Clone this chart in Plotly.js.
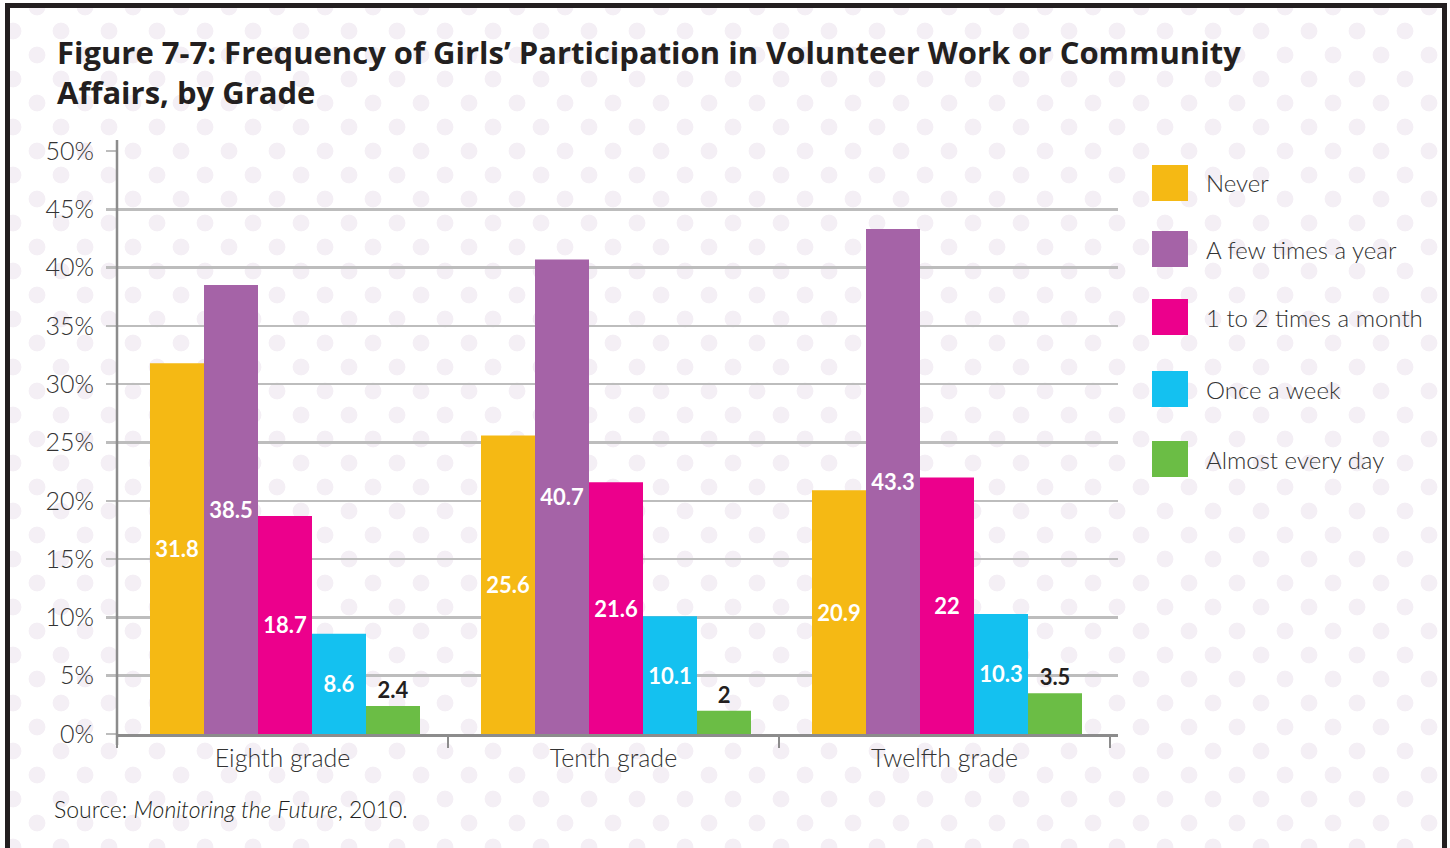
<!DOCTYPE html>
<html>
<head>
<meta charset="utf-8">
<script src="https://cdn.plot.ly/plotly-3.0.1.min.js"></script>
<style>
  html, body { margin: 0; padding: 0; width: 1450px; height: 848px; overflow: hidden; background: #ffffff; }
  #frame {
    position: absolute; left: 5px; top: 3px; width: 1432px; height: 900px;
    border: 5px solid #231f20; border-bottom: none;
    background-color: #ffffff;
    background-image:
      radial-gradient(circle, #f4eff5 8px, rgba(244,239,245,0) 8.7px),
      radial-gradient(circle, #f4eff5 8px, rgba(244,239,245,0) 8.7px);
    background-size: 48px 48px, 48px 48px;
    background-position: -21px -1px, 3px -25px;
  }
  #chart { position: absolute; left: 0; top: 0; width: 1450px; height: 848px; }
</style>
</head>
<body>
<div id="frame"></div>
<div id="chart"></div>
<script>
// ---- data ----
const grades = ["Eighth grade", "Tenth grade", "Twelfth grade"];
const seriesNames = ["Never", "A few times a year", "1 to 2 times a month", "Once a week", "Almost every day"];
const never = [31.8, 25.6, 20.9];
const fewTimesYear = [38.5, 40.7, 43.3];
const oneToTwoMonth = [18.7, 21.6, 22];
const onceWeek = [8.6, 10.1, 10.3];
const almostEveryDay = [2.4, 2, 3.5];
const yTickValues = [0, 5, 10, 15, 20, 25, 30, 35, 40, 45, 50];
const yTickLabels = ["0%", "5%", "10%", "15%", "20%", "25%", "30%", "35%", "40%", "45%", "50%"];

const seriesValues = [never, fewTimesYear, oneToTwoMonth, onceWeek, almostEveryDay];
const colors = ["#f5b914", "#a563a7", "#ec008c", "#14c1f0", "#6bbd45"];

// ---- geometry helpers (pixels -> paper) ----
const L = 117, R = 1118, T = 151, B = 734;
const CAT = 331;            // category width in px
const px2x = p => (p - L) / (R - L);
const py2y = p => (B - p) / (B - T);

const FONT = "Lato, 'Open Sans', sans-serif";
const TITLEFONT = "'Open Sans', Lato, sans-serif";
const DARK = "#231f20";

const barW = 54 / CAT;
const traces = seriesValues.map((vals, i) => {
  const outside = (i === 4);
  return {
    type: "bar",
    name: seriesNames[i],
    x: grades,
    y: vals,
    width: barW,
    offset: -0.5 + (33 + 54 * i) / CAT,
    text: vals.map(v => String(v)),
    textposition: outside ? "outside" : "inside",
    insidetextanchor: "middle",
    constraintext: "none",
    cliponaxis: false,
    textfont: { family: FONT, size: 22, weight: 700, color: outside ? DARK : "#ffffff" },
    marker: { color: colors[i], line: { width: 0 } },
    hoverinfo: "skip",
    showlegend: false
  };
});

// custom legend with large square swatches
const shapes = [];
const annotations = [];
const legendY = [183, 249, 317, 389, 459];
seriesNames.forEach((name, i) => {
  const cy = legendY[i];
  shapes.push({
    type: "rect", xref: "paper", yref: "paper",
    x0: px2x(1152), x1: px2x(1188), y0: py2y(cy + 18), y1: py2y(cy - 18),
    fillcolor: colors[i], line: { width: 0 }
  });
  annotations.push({
    xref: "paper", yref: "paper", x: px2x(1204), y: py2y(cy),
    xanchor: "left", yanchor: "middle", showarrow: false,
    text: name, font: { family: FONT, size: 24, weight: 300, color: "#333333" }
  });
});

// extended y-axis line
shapes.push({
  type: "line", xref: "paper", yref: "paper",
  x0: 0, x1: 0, y0: py2y(745), y1: py2y(140),
  line: { color: "#8c8c8c", width: 2.5 }
});

// title
annotations.push({
  xref: "paper", yref: "paper", x: px2x(55), y: py2y(29),
  xanchor: "left", yanchor: "top", align: "left", showarrow: false,
  text: "<b>Figure 7-7: Frequency of Girls’ Participation in Volunteer Work or Community<br>Affairs, by Grade</b>",
  font: { family: TITLEFONT, size: 31, color: DARK }
});

// source note
annotations.push({
  xref: "paper", yref: "paper", x: px2x(52), y: py2y(809),
  xanchor: "left", yanchor: "middle", showarrow: false,
  text: "Source: <i>Monitoring the Future</i>, 2010.",
  font: { family: FONT, size: 23, weight: 300, color: DARK }
});

const layout = {
  width: 1450, height: 848,
  margin: { l: L, r: 1450 - R, t: T, b: 848 - B, pad: 0 },
  paper_bgcolor: "rgba(0,0,0,0)",
  plot_bgcolor: "rgba(0,0,0,0)",
  font: { family: FONT, color: "#333333" },
  barmode: "overlay",
  xaxis: {
    type: "category",
    range: [-0.5, 2.5 + 8 / CAT],
    showgrid: false,
    showline: true, linecolor: "#8c8c8c", linewidth: 2.5,
    ticks: "outside", tickson: "boundaries", ticklen: 11, tickwidth: 2.5, tickcolor: "#8c8c8c",
    tickfont: { family: FONT, size: 25, weight: 300, color: "#333333" },
    zeroline: false,
    fixedrange: true
  },
  yaxis: {
    range: [0, 50],
    tickmode: "array", tickvals: yTickValues, ticktext: yTickLabels,
    showgrid: true, gridcolor: "#bdbdbd", gridwidth: 2.5,
    ticks: "outside", ticklen: 10, tickwidth: 2.5, tickcolor: "#bdbdbd",
    ticklabelstandoff: 7,
    tickfont: { family: FONT, size: 25, weight: 300, color: "#333333" },
    showline: false, zeroline: false,
    fixedrange: true
  },
  shapes: shapes,
  annotations: annotations
};

Plotly.newPlot("chart", traces, layout, { displayModeBar: false, staticPlot: true });
</script>
</body>
</html>
